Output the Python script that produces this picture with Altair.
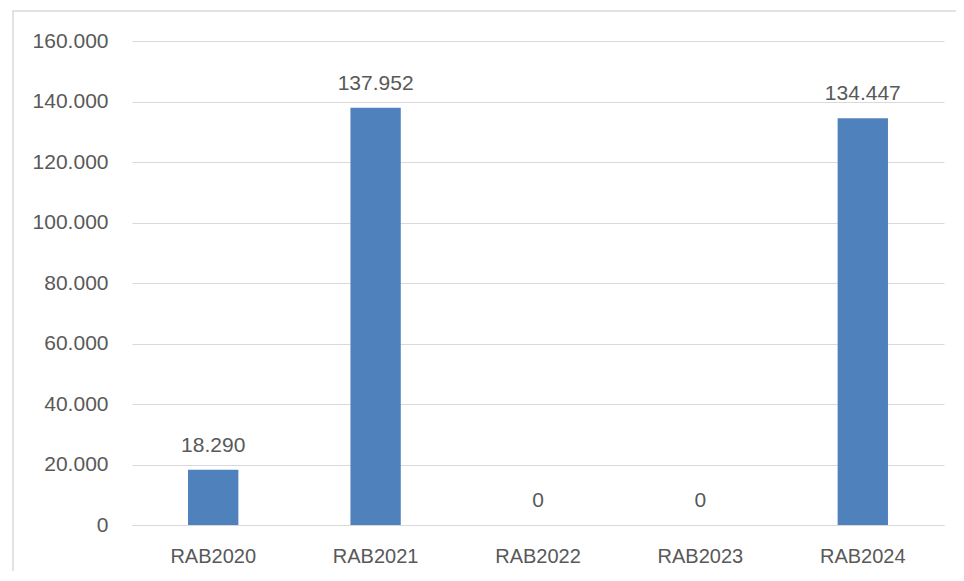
import altair as alt
import pandas as pd

categories = ["RAB2020", "RAB2021", "RAB2022", "RAB2023", "RAB2024"]
values = [18290, 137952, 0, 0, 134447]
y_ticks = [0, 20000, 40000, 60000, 80000, 100000, 120000, 140000, 160000]

df = pd.DataFrame({"cat": categories, "val": values})

FONT = "Liberation Sans"
TXT = "#595959"
GRID = "#D9D9D9"

x_enc = alt.X("cat:N", sort=categories, title=None,
              scale=alt.Scale(paddingInner=0.69, paddingOuter=0.345),
              axis=alt.Axis(labelAngle=0, labelFont=FONT, labelFontSize=20,
                            labelColor=TXT, ticks=False, domainColor=GRID,
                            domainWidth=1, labelPadding=21, grid=False))
y_enc = alt.Y("val:Q", title=None,
              scale=alt.Scale(domain=[0, 160000], nice=False),
              axis=alt.Axis(values=y_ticks, labelFont=FONT, labelFontSize=21,
                            labelColor=TXT, ticks=False, domain=False,
                            gridColor=GRID, gridWidth=1, labelPadding=24,
                            labelExpr="replace(format(datum.value, ','), ',', '.')"))

base = alt.Chart(df)

bars = base.mark_bar(color="#4F81BD").encode(x=x_enc, y=y_enc)

labels = base.transform_calculate(
    lbl="replace(format(datum.val, ','), ',', '.')"
).mark_text(font=FONT, fontSize=21, color=TXT, baseline="alphabetic",
            dy=-18).encode(x=alt.X("cat:N", sort=categories),
                           y=alt.Y("val:Q"), text="lbl:N")

border = alt.Chart(pd.DataFrame({"a": [0]})).mark_rect(
    fill=None, stroke=GRID, strokeWidth=1.5, clip=False
).encode(x=alt.value(-119), x2=alt.value(860), y=alt.value(-30), y2=alt.value(560))

chart = alt.layer(border, bars, labels).properties(
    width=812, height=484,
    background="white",
    autosize=alt.AutoSizeParams(type="none"),
    padding={"left": 124, "top": 33, "right": 12, "bottom": 46},
).configure_view(strokeWidth=0)

chart.save("out.html", embed_options={"renderer": "svg", "actions": False})
